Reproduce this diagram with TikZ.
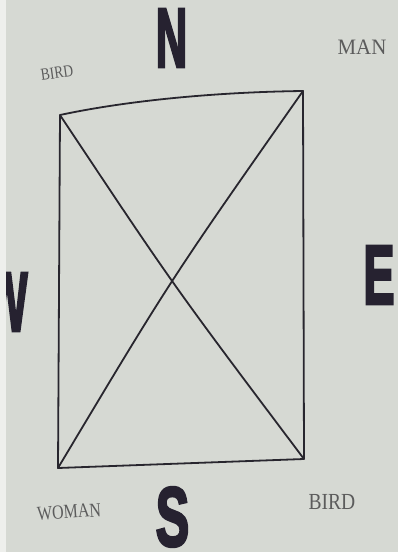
\documentclass[tikz,border=0pt]{standalone}
\usepackage{fontspec}
\setmainfont{Liberation Serif}
\newfontfamily\heavyfont{Liberation Sans Bold}[FakeBold=3.5]
\definecolor{paper}{RGB}{214,217,211}
\definecolor{edgewhite}{RGB}{238,239,236}
\definecolor{ink}{RGB}{40,38,46}
\definecolor{biglet}{RGB}{38,34,48}
\definecolor{lbl}{RGB}{92,92,92}
\tikzset{
  bigletter/.style={inner sep=0pt, text=biglet, font=\heavyfont\fontsize{84}{84}\selectfont},
  smalllabel/.style={inner sep=0pt, text=lbl},
  frame/.style={draw=ink, line width=1.8pt, line join=round, line cap=round}
}
\begin{document}
\begin{tikzpicture}[x=1pt,y=-1pt]
\useasboundingbox (0,0) rectangle (398,552);
\fill[paper] (0,0) rectangle (398,552);
% big compass letters
\node[bigletter] (N) at (171.5,38) {\scalebox{0.52}[1]{N}};
\node[bigletter] (E) at (379,275) {\scalebox{0.56}[1]{E}};
\node[bigletter] (S) at (172.5,517) {\scalebox{0.6}[1]{S}};
\node[bigletter] (W) at (7,302) {\scalebox{0.52}[1]{W}};
\fill[edgewhite] (0,0) rectangle (6,552);
% small labels
\node[smalllabel, rotate=8, font=\fontsize{17}{17}\selectfont] (birdtl) at (57,73) {\scalebox{0.8}[1]{BIRD}};
\node[smalllabel, font=\fontsize{22}{22}\selectfont] (man) at (362,47) {\scalebox{0.95}[1]{MAN}};
\node[smalllabel, rotate=4, font=\fontsize{20}{20}\selectfont] (woman) at (69,512) {\scalebox{0.8}[1]{WOMAN}};
\node[smalllabel, font=\fontsize{23}{23}\selectfont] (birdbr) at (332,502) {\scalebox{0.85}[1]{BIRD}};
% rectangle corners
\coordinate (A) at (60,115);
\coordinate (B) at (303,91);
\coordinate (C) at (304,459);
\coordinate (D) at (58,468);
\draw[frame] (A) .. controls (130,100) and (220,92) .. (B) -- (C) -- (D) -- cycle;
\draw[frame] (A) .. controls (173,285) .. (C);
\draw[frame] (B) .. controls (171,279) .. (D);
\end{tikzpicture}
\end{document}
